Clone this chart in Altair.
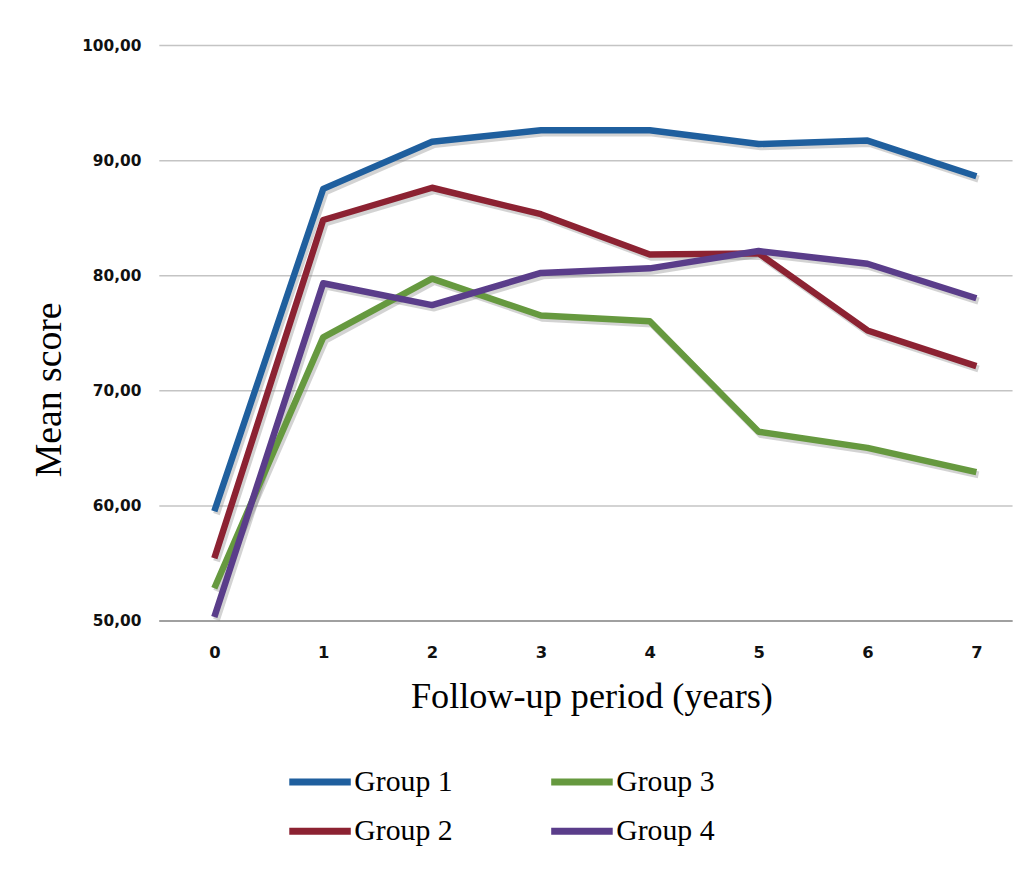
import altair as alt
import pandas as pd

years = [0, 1, 2, 3, 4, 5, 6, 7]
groups = ["Group 1", "Group 2", "Group 3", "Group 4"]
g1 = [59.5, 87.5, 91.6, 92.6, 92.6, 91.4, 91.7, 88.6]
g2 = [55.4, 84.8, 87.6, 85.3, 81.8, 81.9, 75.2, 72.1]
g3 = [52.8, 74.6, 79.7, 76.5, 76.0, 66.4, 65.0, 62.9]
g4 = [50.3, 79.3, 77.4, 80.2, 80.6, 82.1, 81.0, 78.0]
y_ticks = [50, 60, 70, 80, 90, 100]

group_colors = ["#1f5f9e", "#8c2232", "#66993f", "#5a3d8a"]

rows = []
for name, vals in zip(groups, [g1, g2, g3, g4]):
    for yr, v in zip(years, vals):
        rows.append({"year": yr, "score": v, "group": name})
df = pd.DataFrame(rows)

x_scale = alt.Scale(domain=[-0.51, 7.328], nice=False, zero=False)
y_scale = alt.Scale(domain=[50, 100], nice=False, zero=False)

x_axis = alt.Axis(
    values=years, grid=False, ticks=False, domain=True,
    domainColor="#a0a0a0", domainWidth=2,
    labelFont="DejaVu Sans", labelFontWeight="bold", labelFontSize=16.5,
    labelColor="#111111", labelPadding=24,
    title="Follow-up period (years)", titleFont="Liberation Serif",
    titleFontSize=36.5, titleFontWeight="normal", titleColor="#000000",
    titleX=436, titleY=77, titleBaseline="middle", titleAlign="center",
)
y_axis = alt.Axis(
    values=y_ticks, grid=True, gridColor="#c4c4c4", gridWidth=1.5,
    ticks=False, domain=False,
    labelFont="DejaVu Sans", labelFontWeight="bold", labelFontSize=15.5,
    labelColor="#111111", labelPadding=18,
    labelExpr="replace(format(datum.value, '.2f'), '.', ',')",
    title="Mean score", titleFont="Liberation Serif", titleFontSize=38,
    titleFontWeight="normal", titleColor="#000000", titleAngle=-90,
    titleX=-110, titleY=347, titleAlign="center", titleBaseline="middle",
)

shadow = alt.Chart(df).transform_calculate(
    xs="datum.year + 0.02", ys="datum.score - 0.25"
).mark_line(strokeWidth=7, color="#808080", opacity=0.35, strokeJoin="round").encode(
    x=alt.X("xs:Q", scale=x_scale, axis=x_axis),
    y=alt.Y("ys:Q", scale=y_scale, axis=y_axis),
    detail="group:N",
)

lines = alt.Chart(df).mark_line(strokeWidth=6.5, strokeJoin="round").encode(
    x=alt.X("year:Q", scale=x_scale, axis=x_axis),
    y=alt.Y("score:Q", scale=y_scale, axis=y_axis),
    color=alt.Color(
        "group:N",
        scale=alt.Scale(domain=groups, range=group_colors),
        legend=alt.Legend(
            orient="none", legendX=128, legendY=708, columns=2,
            title=None, padding=0, symbolType="stroke", symbolSize=3844,
            symbolStrokeWidth=7, labelFont="Liberation Serif",
            labelFontSize=30, labelColor="#000000", labelOffset=0,
            labelLimit=300, columnPadding=84, rowPadding=-16,
        ),
    ),
)

chart = alt.layer(shadow, lines).properties(
    width=860, height=580,
    autosize=alt.AutoSizeParams(type="none"),
    padding={"left": 152, "top": 34, "right": 7, "bottom": 230},
).configure_view(stroke=None)

chart.save("out.html", embed_options={"renderer": "svg", "actions": False})
